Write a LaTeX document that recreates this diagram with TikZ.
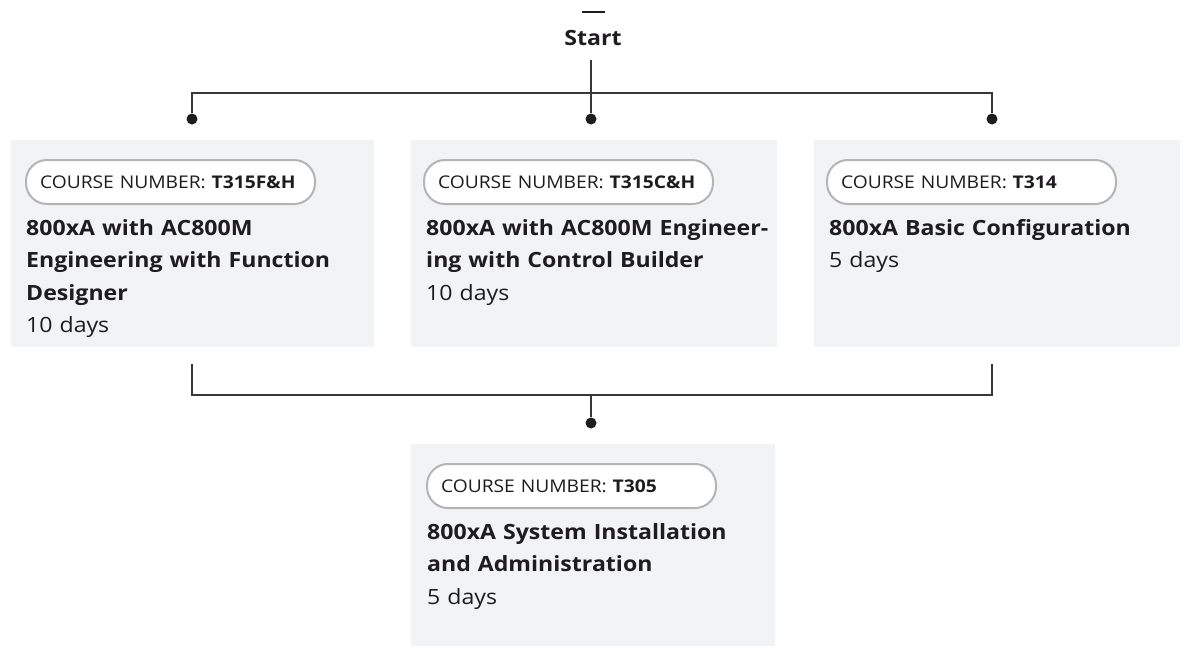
\documentclass[tikz,border=0pt]{standalone}
\usepackage{fontspec}
\setmainfont{Open Sans}[FakeStretch=1.1]
\definecolor{boxgray}{RGB}{242,243,245}
\definecolor{pillgray}{RGB}{180,180,182}
\definecolor{ink}{RGB}{30,28,30}
\definecolor{linec}{RGB}{55,55,57}
\begin{document}
\begin{tikzpicture}[x=1pt,y=-1pt,
  every node/.style={text=ink},
  coursebox/.style={fill=boxgray, draw=none, anchor=north west, inner sep=0pt},
  pill/.style={draw=pillgray, line width=2pt, fill=white, rounded corners=21pt,
    minimum width=289pt, minimum height=44pt, anchor=north west,
    text width=261pt, inner xsep=14pt, inner ysep=0pt, align=left,
    font=\fontsize{17.5}{20}\selectfont},
  title/.style={anchor=base west, inner sep=0pt, text width=365pt, align=left,
    font=\fontsize{21}{32.5}\selectfont},
  dot/.style={circle, fill=ink, inner sep=0pt, minimum size=11pt},
  conn/.style={draw=linec, line width=1.5pt}
]
\useasboundingbox (0,0) rectangle (1185,646);

% boxes
\node[coursebox, minimum width=363pt, minimum height=207pt] (b1) at (11,140) {};
\node[coursebox, minimum width=366pt, minimum height=207pt] (b2) at (411,140) {};
\node[coursebox, minimum width=366pt, minimum height=207pt] (b3) at (814,140) {};
\node[coursebox, minimum width=364pt, minimum height=202pt] (b4) at (411,444) {};

% pills
\node[pill] (p1) at (25,159) {\mbox{COURSE NUMBER: \textbf{T315F\&H}}};
\node[pill] (p2) at (423,159) {\mbox{COURSE NUMBER: \textbf{T315C\&H}}};
\node[pill] (p3) at (826,159) {\mbox{COURSE NUMBER: \textbf{T314}}};
\node[pill] (p4) at (426,463) {\mbox{COURSE NUMBER: \textbf{T305}}};

% titles
\node[title] (t1) at (26,235) {\textbf{800xA with AC800M}\\\textbf{Engineering with Function}\\\textbf{Designer}\\10 days};
\node[title] (t2) at (426,235) {\textbf{800xA with AC800M Engineer-}\\\textbf{ing with Control Builder}\\10 days};
\node[title] (t3) at (829,235) {\textbf{800xA Basic Configuration}\\5 days};
\node[title] (t4) at (427,539) {\textbf{800xA System Installation}\\\textbf{and Administration}\\5 days};

% start
\node[anchor=base, inner sep=0pt, font=\bfseries\fontsize{21}{24}\selectfont] (start) at (593,45) {Start};
\draw[line width=2.5pt, draw=ink] ([xshift=-11pt,yshift=33pt]start.base) -- ([xshift=12pt,yshift=33pt]start.base);

% top connectors
\coordinate (jt) at (591,93);
\coordinate (jl) at (192,93);
\coordinate (jr) at (992,93);
\node[dot] (d1) at (192,119) {};
\node[dot] (d2) at (591,119) {};
\node[dot] (d3) at (992,119) {};
\draw[conn] ([yshift=-15pt]start.base -| jt) -- (jt);
\draw[conn] (d1) -- (jl) -- (jr) -- (d3);
\draw[conn] (jt) -- (d2);

% bottom connectors
\coordinate (bl) at (192,364);
\coordinate (br) at (992,364);
\coordinate (jbl) at (192,395);
\coordinate (jbr) at (992,395);
\coordinate (jb) at (591,395);
\node[dot] (d4) at (591,423) {};
\draw[conn] (bl) -- (jbl) -- (jbr) -- (br);
\draw[conn] (jb) -- (d4);
\end{tikzpicture}
\end{document}
